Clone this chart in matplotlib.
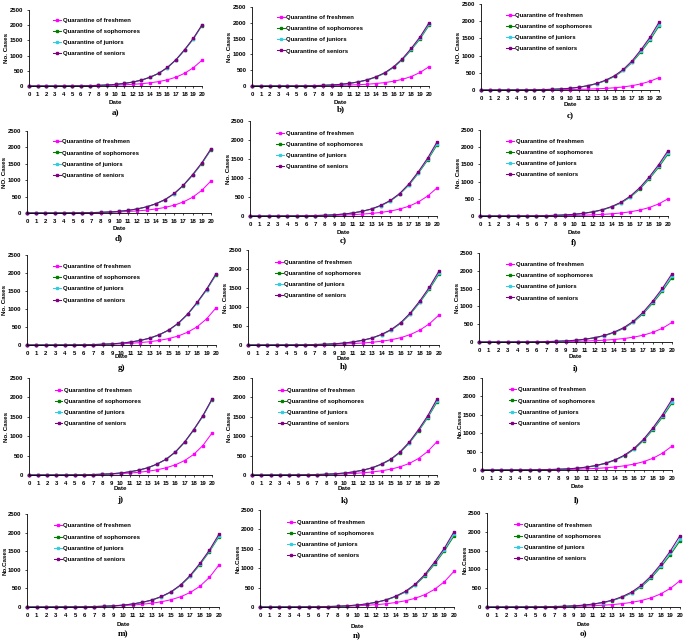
import matplotlib
matplotlib.use("Agg")
import matplotlib.pyplot as plt

days = list(range(21))
series_names = ["Quarantine of freshmen", "Quarantine of sophomores",
                "Quarantine of juniors", "Quarantine of seniors"]
panel_tags = ["a)", "b)", "c)", "d)", "c)", "f)", "g)", "h)", "i)",
              "j)", "k)", "l)", "m)", "n)", "o)"]
ylabels = ["No. Cases", "No. Cases", "NO. Cases", "NO. Cases", "No. Cases",
           "No. Cases", "No. Cases", "No. Cases", "No. Cases", "No. Cases",
           "No. Cases", "No.Cases", "No.Cases", "No.Cases", "No.Cases"]

# freshmen per panel
fresh_a = [0, 0, 1, 2, 3, 4, 6, 9, 13, 19, 28, 40, 55, 75, 105, 145, 205, 290, 420, 600, 850]
fresh_b = [0, 0, 1, 1, 2, 3, 5, 7, 10, 15, 21, 30, 41, 56, 78, 108, 150, 212, 300, 430, 610]
fresh_c = [0, 0, 0, 1, 1, 2, 3, 4, 6, 9, 13, 18, 25, 34, 47, 65, 90, 127, 180, 255, 360]
fresh_d = [0, 0, 1, 2, 3, 5, 7, 10, 15, 22, 32, 46, 64, 88, 122, 170, 238, 337, 480, 690, 980]
fresh_e = [0, 0, 1, 2, 3, 4, 6, 8, 12, 17, 25, 36, 50, 68, 94, 130, 182, 258, 368, 525, 740]
fresh_f = [0, 0, 0, 1, 2, 3, 4, 6, 8, 12, 17, 24, 34, 46, 64, 88, 122, 173, 246, 350, 500]
fresh_g = [0, 0, 1, 2, 3, 5, 7, 11, 16, 23, 34, 48, 67, 92, 128, 178, 250, 355, 505, 725, 1030]
fresh_h = [0, 0, 1, 2, 3, 4, 6, 9, 13, 18, 26, 38, 53, 72, 100, 138, 194, 275, 392, 560, 790]
fresh_i = [0, 0, 0, 1, 2, 3, 4, 6, 9, 13, 19, 27, 37, 51, 70, 97, 135, 190, 270, 385, 550]
fresh_j = [0, 0, 1, 2, 3, 5, 8, 11, 17, 24, 35, 50, 70, 97, 134, 187, 262, 372, 530, 760, 1080]
fresh_k = [0, 0, 1, 2, 3, 4, 6, 9, 14, 20, 29, 41, 57, 78, 108, 150, 210, 298, 425, 608, 860]
fresh_l = [0, 0, 1, 1, 2, 3, 5, 7, 10, 15, 22, 31, 43, 60, 83, 115, 160, 226, 320, 458, 650]
fresh_m = [0, 0, 1, 2, 3, 5, 8, 12, 18, 26, 37, 53, 74, 102, 141, 196, 275, 390, 555, 795, 1130]
fresh_n = [0, 0, 1, 2, 3, 5, 7, 10, 14, 21, 31, 44, 61, 83, 116, 161, 225, 318, 455, 650, 920]
fresh_o = [0, 0, 1, 1, 2, 4, 5, 8, 11, 16, 24, 34, 47, 64, 89, 123, 172, 244, 348, 495, 700]

# sophomores per panel
soph_a = [0, 0, 1, 2, 3, 5, 8, 12, 20, 33, 52, 84, 128, 193, 287, 415, 602, 858, 1183, 1548, 1990]
soph_b = [0, 0, 1, 2, 3, 5, 8, 12, 19, 32, 50, 82, 126, 188, 280, 405, 588, 832, 1148, 1495, 1920]
soph_c = [0, 0, 1, 2, 3, 5, 8, 12, 19, 31, 48, 78, 121, 181, 271, 393, 568, 808, 1113, 1455, 1860]
soph_d = [0, 0, 1, 2, 3, 5, 8, 12, 19, 31, 49, 80, 124, 185, 278, 403, 585, 836, 1150, 1505, 1930]
soph_e = [0, 0, 1, 2, 3, 5, 8, 12, 19, 31, 48, 78, 121, 181, 271, 394, 571, 815, 1123, 1470, 1870]
soph_f = [0, 0, 1, 2, 3, 5, 8, 11, 18, 30, 46, 75, 116, 174, 261, 379, 550, 782, 1077, 1412, 1800]
soph_g = [0, 0, 1, 2, 3, 5, 8, 12, 20, 32, 50, 82, 126, 189, 283, 411, 596, 848, 1167, 1527, 1950]
soph_h = [0, 0, 1, 2, 3, 5, 8, 12, 19, 31, 48, 78, 121, 181, 271, 394, 571, 815, 1123, 1470, 1870]
soph_i = [0, 0, 1, 2, 3, 5, 8, 11, 18, 30, 47, 76, 117, 176, 264, 383, 555, 792, 1090, 1427, 1810]
soph_j = [0, 0, 1, 2, 3, 5, 8, 12, 19, 32, 49, 81, 125, 186, 280, 406, 589, 840, 1157, 1513, 1940]
soph_k = [0, 0, 1, 2, 3, 5, 8, 12, 19, 31, 48, 79, 122, 182, 273, 397, 575, 820, 1130, 1478, 1880]
soph_l = [0, 0, 1, 2, 3, 5, 8, 11, 18, 30, 47, 77, 118, 177, 266, 386, 560, 798, 1098, 1437, 1820]
soph_m = [0, 0, 1, 2, 3, 5, 8, 12, 19, 31, 49, 79, 122, 183, 275, 399, 578, 825, 1135, 1487, 1890]
soph_n = [0, 0, 1, 2, 3, 5, 8, 12, 18, 30, 47, 77, 119, 178, 267, 388, 563, 802, 1104, 1445, 1830]
soph_o = [0, 0, 1, 2, 3, 5, 7, 11, 18, 29, 45, 74, 114, 171, 256, 373, 540, 770, 1060, 1388, 1760]

# juniors per panel
jun_a = [0, 0, 1, 2, 3, 5, 8, 12, 20, 33, 52, 84, 129, 194, 288, 417, 605, 862, 1190, 1556, 2000]
jun_b = [0, 0, 1, 2, 3, 5, 8, 12, 20, 32, 51, 83, 128, 191, 284, 411, 596, 845, 1166, 1520, 1950]
jun_c = [0, 0, 1, 2, 3, 5, 8, 12, 19, 32, 49, 80, 124, 185, 277, 403, 582, 828, 1142, 1488, 1900]
jun_d = [0, 0, 1, 2, 3, 5, 8, 12, 19, 32, 49, 81, 125, 186, 280, 406, 589, 842, 1160, 1516, 1945]
jun_e = [0, 0, 1, 2, 3, 5, 8, 12, 19, 31, 49, 79, 123, 183, 275, 399, 580, 827, 1140, 1492, 1900]
jun_f = [0, 0, 1, 2, 3, 5, 8, 12, 18, 30, 47, 77, 119, 178, 267, 388, 563, 801, 1102, 1446, 1840]
jun_g = [0, 0, 1, 2, 3, 5, 8, 12, 20, 33, 51, 82, 127, 190, 285, 413, 599, 852, 1174, 1535, 1960]
jun_h = [0, 0, 1, 2, 3, 5, 8, 12, 19, 31, 49, 79, 123, 183, 275, 399, 580, 827, 1140, 1492, 1900]
jun_i = [0, 0, 1, 2, 3, 5, 8, 12, 18, 30, 48, 78, 120, 180, 270, 392, 568, 810, 1116, 1460, 1850]
jun_j = [0, 0, 1, 2, 3, 5, 8, 12, 19, 32, 50, 81, 126, 187, 281, 408, 592, 845, 1163, 1521, 1950]
jun_k = [0, 0, 1, 2, 3, 5, 8, 12, 19, 32, 49, 80, 124, 185, 277, 403, 584, 833, 1148, 1500, 1910]
jun_l = [0, 0, 1, 2, 3, 5, 8, 12, 18, 31, 48, 78, 121, 181, 272, 395, 572, 815, 1123, 1468, 1860]
jun_m = [0, 0, 1, 2, 3, 5, 8, 12, 19, 32, 49, 80, 124, 185, 278, 404, 585, 835, 1150, 1505, 1910]
jun_n = [0, 0, 1, 2, 3, 5, 8, 12, 19, 31, 48, 79, 122, 182, 273, 397, 575, 820, 1130, 1478, 1870]
jun_o = [0, 0, 1, 2, 3, 5, 8, 11, 18, 30, 47, 76, 117, 176, 264, 384, 556, 793, 1093, 1430, 1810]

# seniors per panel
sen_a = [0, 0, 1, 2, 3, 5, 8, 12, 20, 33, 52, 85, 130, 195, 290, 420, 610, 870, 1200, 1570, 2010]
sen_b = [0, 0, 1, 2, 3, 5, 8, 12, 20, 33, 52, 85, 130, 195, 290, 420, 610, 865, 1195, 1560, 2000]
sen_c = [0, 0, 1, 2, 3, 5, 8, 12, 20, 33, 50, 82, 127, 190, 285, 415, 600, 855, 1180, 1540, 1970]
sen_d = [0, 0, 1, 2, 3, 5, 8, 12, 19, 32, 50, 82, 126, 188, 283, 410, 595, 850, 1170, 1530, 1960]
sen_e = [0, 0, 1, 2, 3, 5, 8, 12, 19, 32, 50, 81, 125, 187, 281, 408, 592, 845, 1165, 1525, 1950]
sen_f = [0, 0, 1, 2, 3, 5, 8, 12, 19, 31, 49, 79, 122, 183, 275, 400, 580, 825, 1135, 1490, 1900]
sen_g = [0, 0, 1, 2, 3, 5, 8, 12, 20, 33, 51, 83, 128, 192, 287, 417, 605, 860, 1185, 1550, 1980]
sen_h = [0, 0, 1, 2, 3, 5, 8, 12, 19, 32, 50, 81, 125, 187, 281, 408, 592, 845, 1165, 1525, 1950]
sen_i = [0, 0, 1, 2, 3, 5, 8, 12, 19, 31, 49, 80, 123, 185, 278, 404, 585, 835, 1150, 1505, 1920]
sen_j = [0, 0, 1, 2, 3, 5, 8, 12, 19, 32, 50, 82, 126, 188, 283, 410, 595, 850, 1170, 1530, 1960]
sen_k = [0, 0, 1, 2, 3, 5, 8, 12, 19, 32, 50, 82, 126, 188, 283, 410, 595, 850, 1170, 1530, 1960]
sen_l = [0, 0, 1, 2, 3, 5, 8, 12, 19, 31, 49, 80, 123, 185, 278, 404, 585, 835, 1150, 1505, 1920]
sen_m = [0, 0, 1, 2, 3, 5, 8, 12, 19, 32, 50, 82, 126, 188, 283, 410, 595, 850, 1170, 1530, 1960]
sen_n = [0, 0, 1, 2, 3, 5, 8, 12, 19, 32, 50, 81, 124, 186, 280, 406, 589, 840, 1160, 1515, 1940]
sen_o = [0, 0, 1, 2, 3, 5, 8, 12, 19, 31, 49, 79, 122, 183, 275, 400, 580, 825, 1135, 1490, 1900]

freshmen = [fresh_a, fresh_b, fresh_c, fresh_d, fresh_e, fresh_f, fresh_g, fresh_h,
            fresh_i, fresh_j, fresh_k, fresh_l, fresh_m, fresh_n, fresh_o]
sophomores = [soph_a, soph_b, soph_c, soph_d, soph_e, soph_f, soph_g, soph_h,
              soph_i, soph_j, soph_k, soph_l, soph_m, soph_n, soph_o]
juniors = [jun_a, jun_b, jun_c, jun_d, jun_e, jun_f, jun_g, jun_h,
           jun_i, jun_j, jun_k, jun_l, jun_m, jun_n, jun_o]
seniors = [sen_a, sen_b, sen_c, sen_d, sen_e, sen_f, sen_g, sen_h,
           sen_i, sen_j, sen_k, sen_l, sen_m, sen_n, sen_o]

colors = ["#FF00FF", "#008000", "#33CCE0", "#800080"]

# panel boxes in pixels: x at day 0, x at day 20, y at 2500, y at 0, y of "Date", y of tag
boxes = [
    (29, 202, 10, 86, 103, 113), (252, 429, 7, 86, 103, 109), (481, 659, 4, 90, 105, 116),
    (27, 211, 131, 213, 229, 238), (250, 437, 121, 216, 232, 241), (480, 668, 130, 216, 232, 242),
    (27, 216, 255, 345, 357, 368), (248, 439, 250, 345, 358, 366), (479, 672, 253, 342, 357, 368),
    (29, 212, 378, 475, 488, 500), (252, 437, 378, 475, 488, 500), (482, 672, 378, 470, 486, 500),
    (27, 219, 514, 607, 624, 634), (260, 454, 510, 607, 626, 636), (487, 680, 513, 607, 624, 634),
]

W, H = 685, 640
fig = plt.figure(figsize=(W / 100, H / 100), dpi=100)
plt.rcParams['font.family'] = ['Liberation Sans', 'DejaVu Sans']

for k, (x0, x1, yt, yb, ydate, ytag) in enumerate(boxes):
    ax = fig.add_axes([x0 / W, 1 - yb / H, (x1 - x0) / W, (yb - yt) / H])
    for vals, name, c in zip([freshmen[k], sophomores[k], juniors[k], seniors[k]],
                             series_names, colors):
        ax.plot(days, vals, color=c, marker='s', markersize=1.7, linewidth=0.75,
                label=name, clip_on=False)
    ax.set_xlim(0, 20)
    ax.set_ylim(0, 2500)
    ax.set_xticks(days)
    ax.set_yticks([0, 500, 1000, 1500, 2000, 2500])
    ax.tick_params(labelsize=4.3, length=1.5, width=0.5, pad=2.5)
    for lab in ax.get_xticklabels() + ax.get_yticklabels():
        lab.set_fontweight('bold')
    ax.spines['top'].set_visible(False)
    ax.spines['right'].set_visible(False)
    ax.spines['left'].set_linewidth(0.6)
    ax.spines['bottom'].set_linewidth(0.6)
    ax.legend(loc='upper left', bbox_to_anchor=(0.14, 0.9), frameon=False,
              prop={'weight': 'bold', 'size': 4.3},
              handlelength=1.3, handletextpad=0.3, labelspacing=1.0,
              borderpad=0, borderaxespad=0)
    fig.text((x0 + x1) / 2 / W, 1 - ydate / H, "Date", ha='center', va='center',
             fontsize=4.5, fontweight='bold')
    fig.text((x0 - 22) / W, 1 - (yt + yb) / 2 / H, ylabels[k], ha='center', va='center',
             rotation=90, fontsize=4.5, fontweight='bold')
    fig.text((x0 + x1) / 2 / W, 1 - ytag / H, panel_tags[k], ha='center', va='center',
             fontsize=6.5, fontweight='bold', family='Liberation Serif')

fig.savefig("out.png", dpi=100)
